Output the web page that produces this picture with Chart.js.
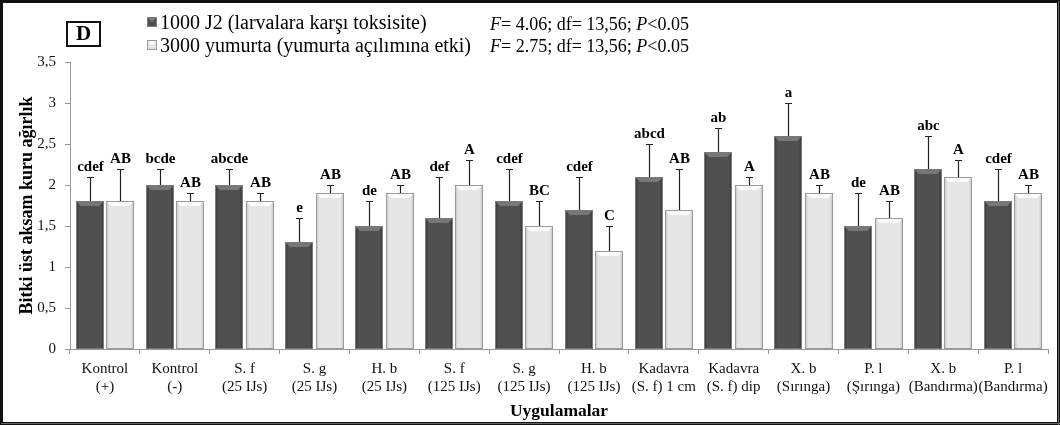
<!DOCTYPE html>
<html>
<head>
<meta charset="utf-8">
<script src="https://cdn.jsdelivr.net/npm/chart.js@4/dist/chart.umd.min.js"></script>
<style>
  html, body { margin: 0; padding: 0; background: #fff; }
  #wrap { width: 1060px; height: 425px; position: relative; }
</style>
</head>
<body>
<div id="wrap"><canvas id="chart" width="1060" height="425"></canvas></div>
<script>
'use strict';

// categories (two-line labels)
var categories = [
    ['Kontrol', '(+)'], ['Kontrol', '(-)'], ['S. f', '(25 IJs)'], ['S. g', '(25 IJs)'],
    ['H. b', '(25 IJs)'], ['S. f', '(125 IJs)'], ['S. g', '(125 IJs)'], ['H. b', '(125 IJs)'],
    ['Kadavra', '(S. f) 1 cm'], ['Kadavra', '(S. f) dip'], ['X. b', '(Sırınga)'],
    ['P. l', '(Şırınga)'], ['X. b', '(Bandırma)'], ['P. l', '(Bandırma)']
];

// 1000 J2 (larvalara karşı toksisite)
var larvaValues = [1.8, 2.0, 2.0, 1.3, 1.5, 1.6, 1.8, 1.7, 2.1, 2.4, 2.6, 1.5, 2.2, 1.8];
var larvaErrors = [0.3, 0.2, 0.2, 0.3, 0.3, 0.5, 0.4, 0.4, 0.4, 0.3, 0.4, 0.4, 0.4, 0.4];
var larvaLetters = ['cdef', 'bcde', 'abcde', 'e', 'de', 'def', 'cdef', 'cdef', 'abcd', 'ab', 'a', 'de', 'abc', 'cdef'];

// 3000 yumurta (yumurta açılımına etki)
var eggValues = [1.8, 1.8, 1.8, 1.9, 1.9, 2.0, 1.5, 1.2, 1.7, 2.0, 1.9, 1.6, 2.1, 1.9];
var eggErrors = [0.4, 0.1, 0.1, 0.1, 0.1, 0.3, 0.3, 0.3, 0.5, 0.1, 0.1, 0.2, 0.2, 0.1];
var eggLetters = ['AB', 'AB', 'AB', 'AB', 'AB', 'A', 'BC', 'C', 'AB', 'A', 'AB', 'AB', 'A', 'AB'];

var yTicks = [0, 0.5, 1, 1.5, 2, 2.5, 3, 3.5];

var SERIF = '"Liberation Serif", "Times New Roman", serif';

var styles = [
    { edge: '#363636', mid: '#505050', top: '#777777', border: '#7a7a7a' },
    { edge: '#c2c2c2', mid: '#e6e6e6', top: '#fbfbfb', border: '#9a9a9a' }
];

// bevelled bar look
function bevel(ctx, x, y, w, h, st) {
    var g = ctx.createLinearGradient(x, 0, x + w, 0);
    g.addColorStop(0, st.edge);
    g.addColorStop(0.12, st.mid);
    g.addColorStop(0.88, st.mid);
    g.addColorStop(1, st.edge);
    ctx.fillStyle = g;
    ctx.fillRect(x, y, w, h);
    var b = Math.min(5, h / 2);
    ctx.fillStyle = st.top;
    ctx.beginPath();
    ctx.moveTo(x, y); ctx.lineTo(x + w, y); ctx.lineTo(x + w - b, y + b); ctx.lineTo(x + b, y + b);
    ctx.closePath();
    ctx.fill();
    ctx.strokeStyle = st.border;
    ctx.lineWidth = 1;
    ctx.strokeRect(x + 0.5, y + 0.5, w - 1, h - 1);
}

var framePlugin = {
    id: 'frame',
    beforeDraw: function(c) {
        var ctx = c.ctx;
        ctx.save();
        ctx.fillStyle = '#fff';
        ctx.fillRect(0, 0, c.width, c.height);
        ctx.restore();
    },
    afterDraw: function(c) {
        var ctx = c.ctx;
        ctx.save();
        ctx.strokeStyle = '#111';
        ctx.lineWidth = 3;
        ctx.strokeRect(1.5, 1.5, c.width - 3, c.height - 3);
        ctx.strokeStyle = '#666';
        ctx.lineWidth = 1;
        ctx.beginPath();
        ctx.moveTo(1, c.height - 1.5); ctx.lineTo(c.width, c.height - 1.5);
        ctx.moveTo(c.width - 1.5, 1); ctx.lineTo(c.width - 1.5, c.height);
        ctx.stroke();

        // "D" panel box
        ctx.fillStyle = '#fff';
        ctx.fillRect(67, 22, 33, 24);
        ctx.lineWidth = 2;
        ctx.strokeStyle = '#111';
        ctx.strokeRect(67, 22, 33, 24);
        ctx.fillStyle = '#000';
        ctx.font = 'bold 21px ' + SERIF;
        ctx.textAlign = 'center';
        ctx.textBaseline = 'middle';
        ctx.fillText('D', 83.5, 35);

        // legend
        var names = c.data.datasets.map(function(d) { return d.label; });
        ctx.textAlign = 'left';
        ctx.textBaseline = 'alphabetic';
        names.forEach(function(n, i) {
            var y = 29 + i * 23;
            bevel(ctx, 147, y - 12, 10, 10, styles[i]);
            ctx.fillStyle = '#000';
            ctx.font = '20px ' + SERIF;
            ctx.fillText(n, 160, y);
        });

        // statistics
        var stats = [['4.06', '13,56'], ['2.75', '13,56']];
        stats.forEach(function(s, i) {
            var y = 30 + i * 22;
            var x = 490;
            var parts = [['F', true], ['= ' + s[0] + '; df= ' + s[1] + '; ', false], ['P', true], ['<0.05', false]];
            parts.forEach(function(p) {
                ctx.font = (p[1] ? 'italic ' : '') + '18px ' + SERIF;
                ctx.fillText(p[0], x, y);
                x += ctx.measureText(p[0]).width;
            });
        });
        ctx.restore();
    }
};

var barsPlugin = {
    id: 'bars',
    afterDatasetsDraw: function(c) {
        var ctx = c.ctx;
        var ys = c.scales.y;
        var errs = [larvaErrors, eggErrors];
        var letters = [larvaLetters, eggLetters];
        ctx.save();
        c.data.datasets.forEach(function(ds, di) {
            c.getDatasetMeta(di).data.forEach(function(bar, i) {
                var p = bar.getProps(['x', 'y', 'base', 'width'], true);
                var left = Math.round(p.x - p.width / 2);
                var w = Math.round(p.width);
                var top = Math.round(p.y);
                bevel(ctx, left, top, w, Math.round(p.base) - top, styles[di]);

                var yt = Math.round(ys.getPixelForValue(ds.data[i] + errs[di][i])) + 0.5;
                var cx = Math.round(p.x) + 0.5;
                ctx.strokeStyle = '#222';
                ctx.lineWidth = 1.2;
                ctx.beginPath();
                ctx.moveTo(cx, top); ctx.lineTo(cx, yt);
                ctx.moveTo(cx - 3.5, yt); ctx.lineTo(cx + 3.5, yt);
                ctx.stroke();

                ctx.fillStyle = '#000';
                ctx.font = 'bold 15px ' + SERIF;
                ctx.textAlign = 'center';
                ctx.textBaseline = 'alphabetic';
                ctx.fillText(letters[di][i], cx, yt - 7);
            });
        });
        ctx.restore();
    }
};

var chart = new Chart(document.getElementById('chart'), {
    type: 'bar',
    data: {
        labels: categories,
        datasets: [
            { label: '1000 J2 (larvalara karşı toksisite)', data: larvaValues, backgroundColor: 'rgba(0,0,0,0)' },
            { label: '3000 yumurta (yumurta açılımına etki)', data: eggValues, backgroundColor: 'rgba(0,0,0,0)' }
        ]
    },
    options: {
        responsive: false,
        animation: false,
        events: [],
        categoryPercentage: 0.87,
        barPercentage: 0.92,
        layout: { padding: { left: 17, right: 12, top: 62, bottom: 3 } },
        plugins: {
            legend: { display: false },
            tooltip: { enabled: false }
        },
        scales: {
            x: {
                grid: { drawOnChartArea: false, drawTicks: true, tickLength: 5, color: '#999', offset: true },
                border: { color: '#999' },
                ticks: { color: '#111', font: { family: SERIF, size: 15 }, padding: 6, maxRotation: 0, autoSkip: false },
                title: { display: true, text: 'Uygulamalar', color: '#000', font: { family: SERIF, size: 17.5, weight: 'bold' }, padding: { top: 4, bottom: 0 } },
                afterFit: function(s) { s.height = 425 - 349 - 3; }
            },
            y: {
                min: 0,
                max: 3.5,
                afterBuildTicks: function(s) { s.ticks = yTicks.map(function(v) { return { value: v }; }); },
                grid: { drawOnChartArea: false, drawTicks: true, tickLength: 5, color: '#999' },
                border: { color: '#999' },
                ticks: {
                    color: '#111',
                    font: { family: SERIF, size: 15 },
                    padding: 9,
                    callback: function(v) { return String(v).replace('.', ','); }
                },
                title: { display: true, text: 'Bitki üst aksam kuru ağırlık', color: '#000', font: { family: SERIF, size: 18, weight: 'bold' }, padding: { top: 0, bottom: 4 } },
                afterFit: function(s) { s.width = 70 - 17; }
            }
        }
    },
    plugins: [framePlugin, barsPlugin]
});
</script>
</body>
</html>
